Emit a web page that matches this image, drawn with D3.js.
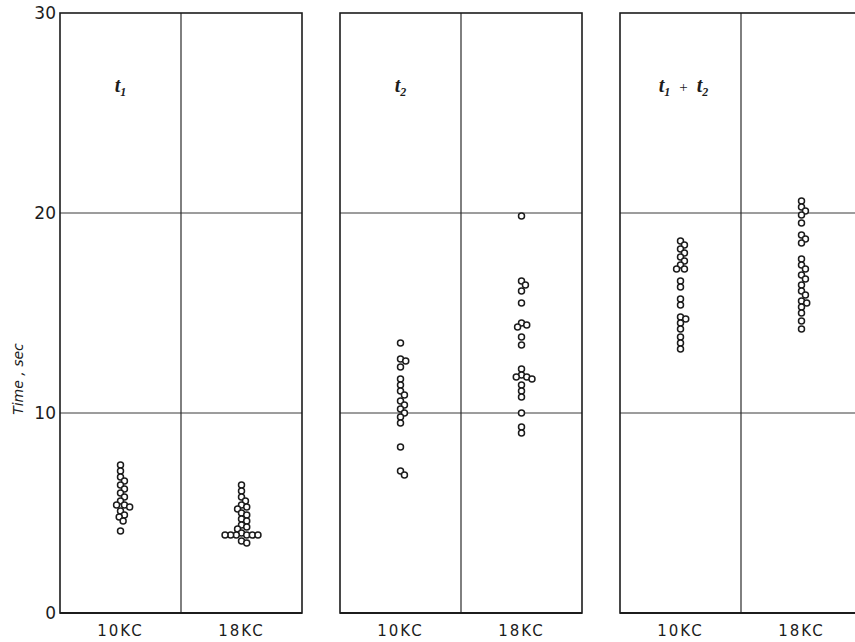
<!DOCTYPE html>
<html>
<head>
<meta charset="utf-8">
<script src="https://cdn.jsdelivr.net/npm/d3@7"></script>
<style>
  html, body { margin: 0; padding: 0; background: #fff; }
  svg { display: block; }
</style>
</head>
<body>
<svg id="chart" width="855" height="642"></svg>
<script>
// Panels and categories
const panelKeys = ["t1", "t2", "sum"];
const categories = ["10KC", "18KC"];
const yTicks = [0, 10, 20, 30];

// Individual times (sec) per condition
const t1_10KC = [7.4, 7.1, 6.8, 6.6, 6.4, 6.2, 6.0, 5.8, 5.6, 5.4, 5.4, 5.3, 5.1, 4.9, 4.8, 4.6, 4.1];
const t1_18KC = [6.4, 6.1, 5.8, 5.6, 5.4, 5.3, 5.2, 5.0, 4.9, 4.7, 4.6, 4.4, 4.3, 4.2, 4.0,
                 3.9, 3.9, 3.9, 3.9, 3.9, 3.9, 3.6, 3.5];
const t2_10KC = [13.5, 12.7, 12.6, 12.3, 11.7, 11.4, 11.1, 10.9, 10.6, 10.4, 10.2, 10.0, 9.8, 9.5, 8.3, 7.1, 6.9];
const t2_18KC = [19.85, 16.6, 16.4, 16.1, 15.5, 14.5, 14.4, 14.3, 13.8, 13.4, 12.2, 11.9,
                 11.8, 11.8, 11.7, 11.4, 11.1, 10.8, 10.0, 9.3, 9.0];
const sum_10KC = [18.6, 18.4, 18.2, 18.0, 17.8, 17.6, 17.4, 17.2, 17.2, 16.6, 16.3, 15.7, 15.4,
                  14.8, 14.7, 14.5, 14.2, 13.8, 13.5, 13.2];
const sum_18KC = [20.6, 20.3, 20.1, 19.9, 19.5, 18.9, 18.7, 18.5, 17.7, 17.4, 17.2, 16.9, 16.7,
                  16.4, 16.1, 15.9, 15.6, 15.5, 15.3, 15.0, 14.6, 14.2];

const seriesByPanel = {
  t1: [t1_10KC, t1_18KC],
  t2: [t2_10KC, t2_18KC],
  sum: [sum_10KC, sum_18KC]
};

const svg = d3.select("#chart");
const ink = "#1c1c1c";

const y = d3.scaleLinear().domain([0, 30]).range([613, 13]);
const xPanel = d3.scaleBand().domain(panelKeys).range([60, 862]).paddingInner(38 / 280).paddingOuter(0);
const xCat = d3.scaleBand().domain(categories).range([0, xPanel.bandwidth()]);

const R = 3.0;        // dot radius
const COLLIDE = 5.6;  // min centre distance before dots are nudged sideways

// Simple dot-strip layout: keep dots on the column centre unless they overlap
function swarm(values) {
  const placed = [];
  const sorted = values.slice().sort((a, b) => b - a);
  sorted.forEach(v => {
    const py = y(v);
    const blocked = [];
    placed.forEach(p => {
      const dy = Math.abs(p.py - py);
      if (dy < COLLIDE) {
        const w = Math.sqrt(COLLIDE * COLLIDE - dy * dy);
        blocked.push([p.dx - w, p.dx + w]);
      }
    });
    const cands = [0];
    blocked.forEach(([a, b]) => { cands.push(a - 0.01, b + 0.01); });
    cands.sort((a, b) => Math.abs(a) - Math.abs(b) || b - a);
    const dx = cands.find(c => blocked.every(([a, b]) => c <= a || c >= b));
    placed.push({ v, py, dx });
  });
  return placed;
}

// Y axis tick labels
svg.append("g")
  .selectAll("text")
  .data(yTicks)
  .join("text")
  .attr("x", 56)
  .attr("y", d => y(d))
  .attr("dy", "0.36em")
  .attr("text-anchor", "end")
  .attr("font-family", "DejaVu Sans, sans-serif")
  .attr("font-size", 17)
  .attr("fill", ink)
  .text(d => d);

// Y axis title
svg.append("text")
  .attr("transform", `translate(23,${y(11.7)}) rotate(-90)`)
  .attr("text-anchor", "middle")
  .attr("font-family", "DejaVu Sans, sans-serif")
  .attr("font-style", "italic")
  .attr("font-size", 14)
  .attr("fill", ink)
  .text("Time , sec");

// Title pieces: [symbol, subscript]; a null subscript marks an operator
const titles = {
  t1: [["t", "1"]],
  t2: [["t", "2"]],
  sum: [["t", "1"], ["+", null], ["t", "2"]]
};

panelKeys.forEach(key => {
  const x0 = xPanel(key);
  const g = svg.append("g").attr("transform", `translate(${x0},0)`);
  const w = xPanel.bandwidth();

  // horizontal grid lines
  g.selectAll("line.grid")
    .data([10, 20])
    .join("line")
    .attr("class", "grid")
    .attr("x1", 0).attr("x2", w)
    .attr("y1", d => y(d)).attr("y2", d => y(d))
    .attr("stroke", "#3a3a3a")
    .attr("stroke-width", 1);

  // divider between categories
  g.append("line")
    .attr("x1", xCat("18KC")).attr("x2", xCat("18KC"))
    .attr("y1", y(30)).attr("y2", y(0))
    .attr("stroke", "#2a2a2a")
    .attr("stroke-width", 1.2);

  // panel frame
  g.append("rect")
    .attr("x", 0).attr("y", y(30))
    .attr("width", w).attr("height", y(0) - y(30))
    .attr("fill", "none")
    .attr("stroke", ink)
    .attr("stroke-width", 1.6);
  g.append("line")
    .attr("x1", 0).attr("x2", w)
    .attr("y1", y(0)).attr("y2", y(0))
    .attr("stroke", ink)
    .attr("stroke-width", 2.2);

  // category labels
  g.selectAll("text.cat")
    .data(categories)
    .join("text")
    .attr("class", "cat")
    .attr("x", d => xCat(d) + xCat.bandwidth() / 2)
    .attr("y", 636)
    .attr("text-anchor", "middle")
    .attr("font-family", "DejaVu Sans, sans-serif")
    .attr("font-size", 15)
    .attr("letter-spacing", 2)
    .attr("fill", ink)
    .text(d => d);

  // panel title
  const title = g.append("text")
    .attr("x", key === "sum" ? xCat.bandwidth() / 2 + 3 : xCat.bandwidth() / 2)
    .attr("y", 92)
    .attr("text-anchor", "middle")
    .attr("font-family", "Liberation Serif, serif")
    .attr("font-style", "italic")
    .attr("font-weight", "bold")
    .attr("font-size", 20)
    .attr("fill", ink);
  let shiftY = 0, shiftX = 0;
  titles[key].forEach(([main, sub]) => {
    if (sub === null) {
      title.append("tspan")
        .attr("font-style", "normal").attr("font-weight", "normal")
        .attr("font-size", 15)
        .attr("dx", 9).attr("dy", shiftY)
        .text(main);
      shiftY = 0;
      shiftX = 9;
    } else {
      title.append("tspan").attr("dx", shiftX).attr("dy", shiftY).text(main);
      title.append("tspan").attr("font-size", 12).attr("dy", 4).text(sub);
      shiftY = -4;
      shiftX = 0;
    }
  });

  // dots
  seriesByPanel[key].forEach((vals, ci) => {
    const cx = xCat(categories[ci]) + xCat.bandwidth() / 2;
    g.append("g")
      .selectAll("circle")
      .data(swarm(vals))
      .join("circle")
      .attr("cx", d => cx + d.dx)
      .attr("cy", d => y(d.v))
      .attr("r", R)
      .attr("fill", "#fff")
      .attr("stroke", ink)
      .attr("stroke-width", 1.5);
  });
});
</script>
</body>
</html>
